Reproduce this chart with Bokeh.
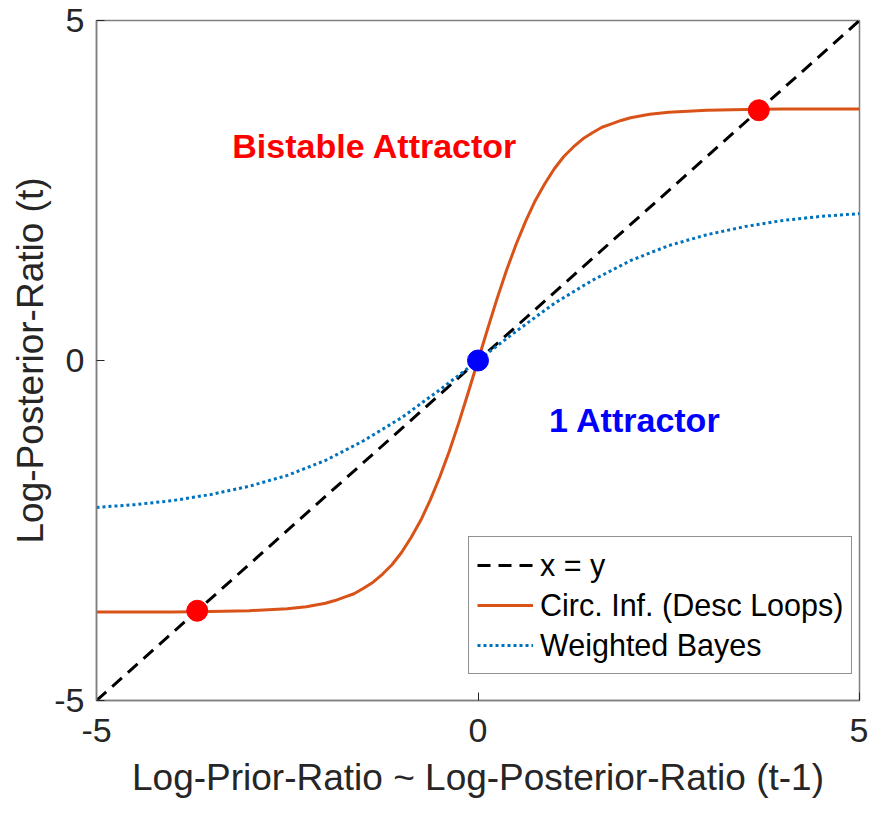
from bokeh.plotting import figure
from bokeh.models import Legend, LegendItem, FixedTicker, Range1d
from bokeh.core.properties import value
from bokeh.embed import file_html
from bokeh.resources import INLINE

# ---- data ----
diag_x = [-5, 5]
diag_y = [-5, 5]

circ_x = [-5, -4.5, -4, -3.5, -3, -2.5, -2.25, -2, -1.875, -1.75, -1.625, -1.5, -1.375, -1.25,
          -1.125, -1, -0.875, -0.75, -0.625, -0.5, -0.375, -0.25, -0.125, 0,
          0.125, 0.25, 0.375, 0.5, 0.625, 0.75, 0.875, 1, 1.125, 1.25, 1.375, 1.5, 1.625,
          1.75, 1.875, 2, 2.25, 2.5, 3, 3.5, 4, 4.5, 5]
circ_y = [-3.70, -3.70, -3.70, -3.69, -3.68, -3.65, -3.62, -3.57, -3.53, -3.48, -3.43, -3.35,
          -3.26, -3.14, -3.00, -2.82, -2.60, -2.35, -2.05, -1.71, -1.33, -0.91, -0.46, 0,
          0.46, 0.91, 1.33, 1.71, 2.05, 2.35, 2.60, 2.82, 3.00, 3.14, 3.26, 3.35, 3.43,
          3.48, 3.53, 3.57, 3.62, 3.65, 3.68, 3.69, 3.70, 3.70, 3.70]

wb_x = [-5, -4.5, -4, -3.5, -3, -2.5, -2, -1.5, -1, -0.5, 0, 0.5, 1, 1.5, 2, 2.5, 3, 3.5, 4, 4.5, 5]
wb_y = [-2.16, -2.12, -2.06, -1.97, -1.85, -1.69, -1.47, -1.18, -0.84, -0.43, 0,
        0.43, 0.84, 1.18, 1.47, 1.69, 1.85, 1.97, 2.06, 2.12, 2.16]

stable_x = [-3.68, 3.68]
stable_y = [-3.68, 3.68]
unstable_x = [0]
unstable_y = [0]

ticks = [-5, 0, 5]
tick_labels = {-5: "-5", 0: "0", 5: "5"}

FONT = "Liberation Sans"

p = figure(width=868, height=800, frame_width=763, frame_height=680,
           min_border_left=96, min_border_right=9, min_border_top=20, min_border_bottom=100,
           x_range=Range1d(-5, 5), y_range=Range1d(-5, 5),
           output_backend="svg", toolbar_location=None)

p.grid.visible = False
p.background_fill_color = "white"
p.outline_line_color = "#7f7f7f"
p.outline_line_width = 1.5

for ax in (p.xaxis[0], p.yaxis[0]):
    ax.ticker = FixedTicker(ticks=ticks)
    ax.major_label_overrides = tick_labels
    ax.minor_tick_line_color = None
    ax.major_tick_in = 8
    ax.major_tick_out = 0
    ax.major_tick_line_color = "#262626"
    ax.major_tick_line_width = 1
    ax.axis_line_color = "#7f7f7f"
    ax.axis_line_width = 1.5
    ax.major_label_text_font = FONT
    ax.major_label_text_font_size = "34px"
    ax.major_label_text_color = "#262626"
    ax.axis_label_text_font = FONT
    ax.axis_label_text_font_size = "37px"
    ax.axis_label_text_font_style = "normal"
    ax.axis_label_text_color = "#262626"

p.xaxis.major_label_standoff = 18
p.yaxis.major_label_standoff = 12
p.xaxis.axis_label = "Log-Prior-Ratio ~ Log-Posterior-Ratio (t-1)"
p.yaxis.axis_label = "Log-Posterior-Ratio (t)"
p.xaxis.axis_label_standoff = 12
p.yaxis.axis_label_standoff = 0

r_diag = p.line(diag_x, diag_y, line_color="black", line_width=3, line_dash="13 8")
r_circ = p.line(circ_x, circ_y, line_color="#D95319", line_width=3)
r_wb = p.line(wb_x, wb_y, line_color="#0072BD", line_width=3, line_dash="3 3")

p.scatter(stable_x, stable_y, size=21, color="#FF0000", line_color="#FF0000")
p.scatter(unstable_x, unstable_y, size=21, color="#0000FF", line_color="#0000FF")

p.text(x=[-3.22], y=[3.16], text=["Bistable Attractor"], text_color="#FF0000",
       text_font=value(FONT), text_font_size="34px", text_font_style="bold",
       text_baseline="middle", text_align="left")
p.text(x=[0.93], y=[-0.88], text=["1 Attractor"], text_color="#0000FF",
       text_font=value(FONT), text_font_size="34px", text_font_style="bold",
       text_baseline="middle", text_align="left")

legend = Legend(items=[
    LegendItem(label="x = y", renderers=[r_diag]),
    LegendItem(label="Circ. Inf. (Desc Loops)", renderers=[r_circ]),
    LegendItem(label="Weighted Bayes", renderers=[r_wb]),
], location=(372, 26))
legend.label_text_font = FONT
legend.label_text_font_size = "30.5px"
legend.label_text_color = "black"
legend.glyph_width = 56
legend.glyph_height = 40
legend.label_height = 40
legend.label_standoff = 7
legend.spacing = 0
legend.padding = 8
legend.margin = 0
legend.border_line_color = "#262626"
legend.border_line_width = 1
legend.background_fill_color = "white"
legend.background_fill_alpha = 1
p.add_layout(legend, "center")

open("out.html", "w").write(file_html(p, INLINE))
